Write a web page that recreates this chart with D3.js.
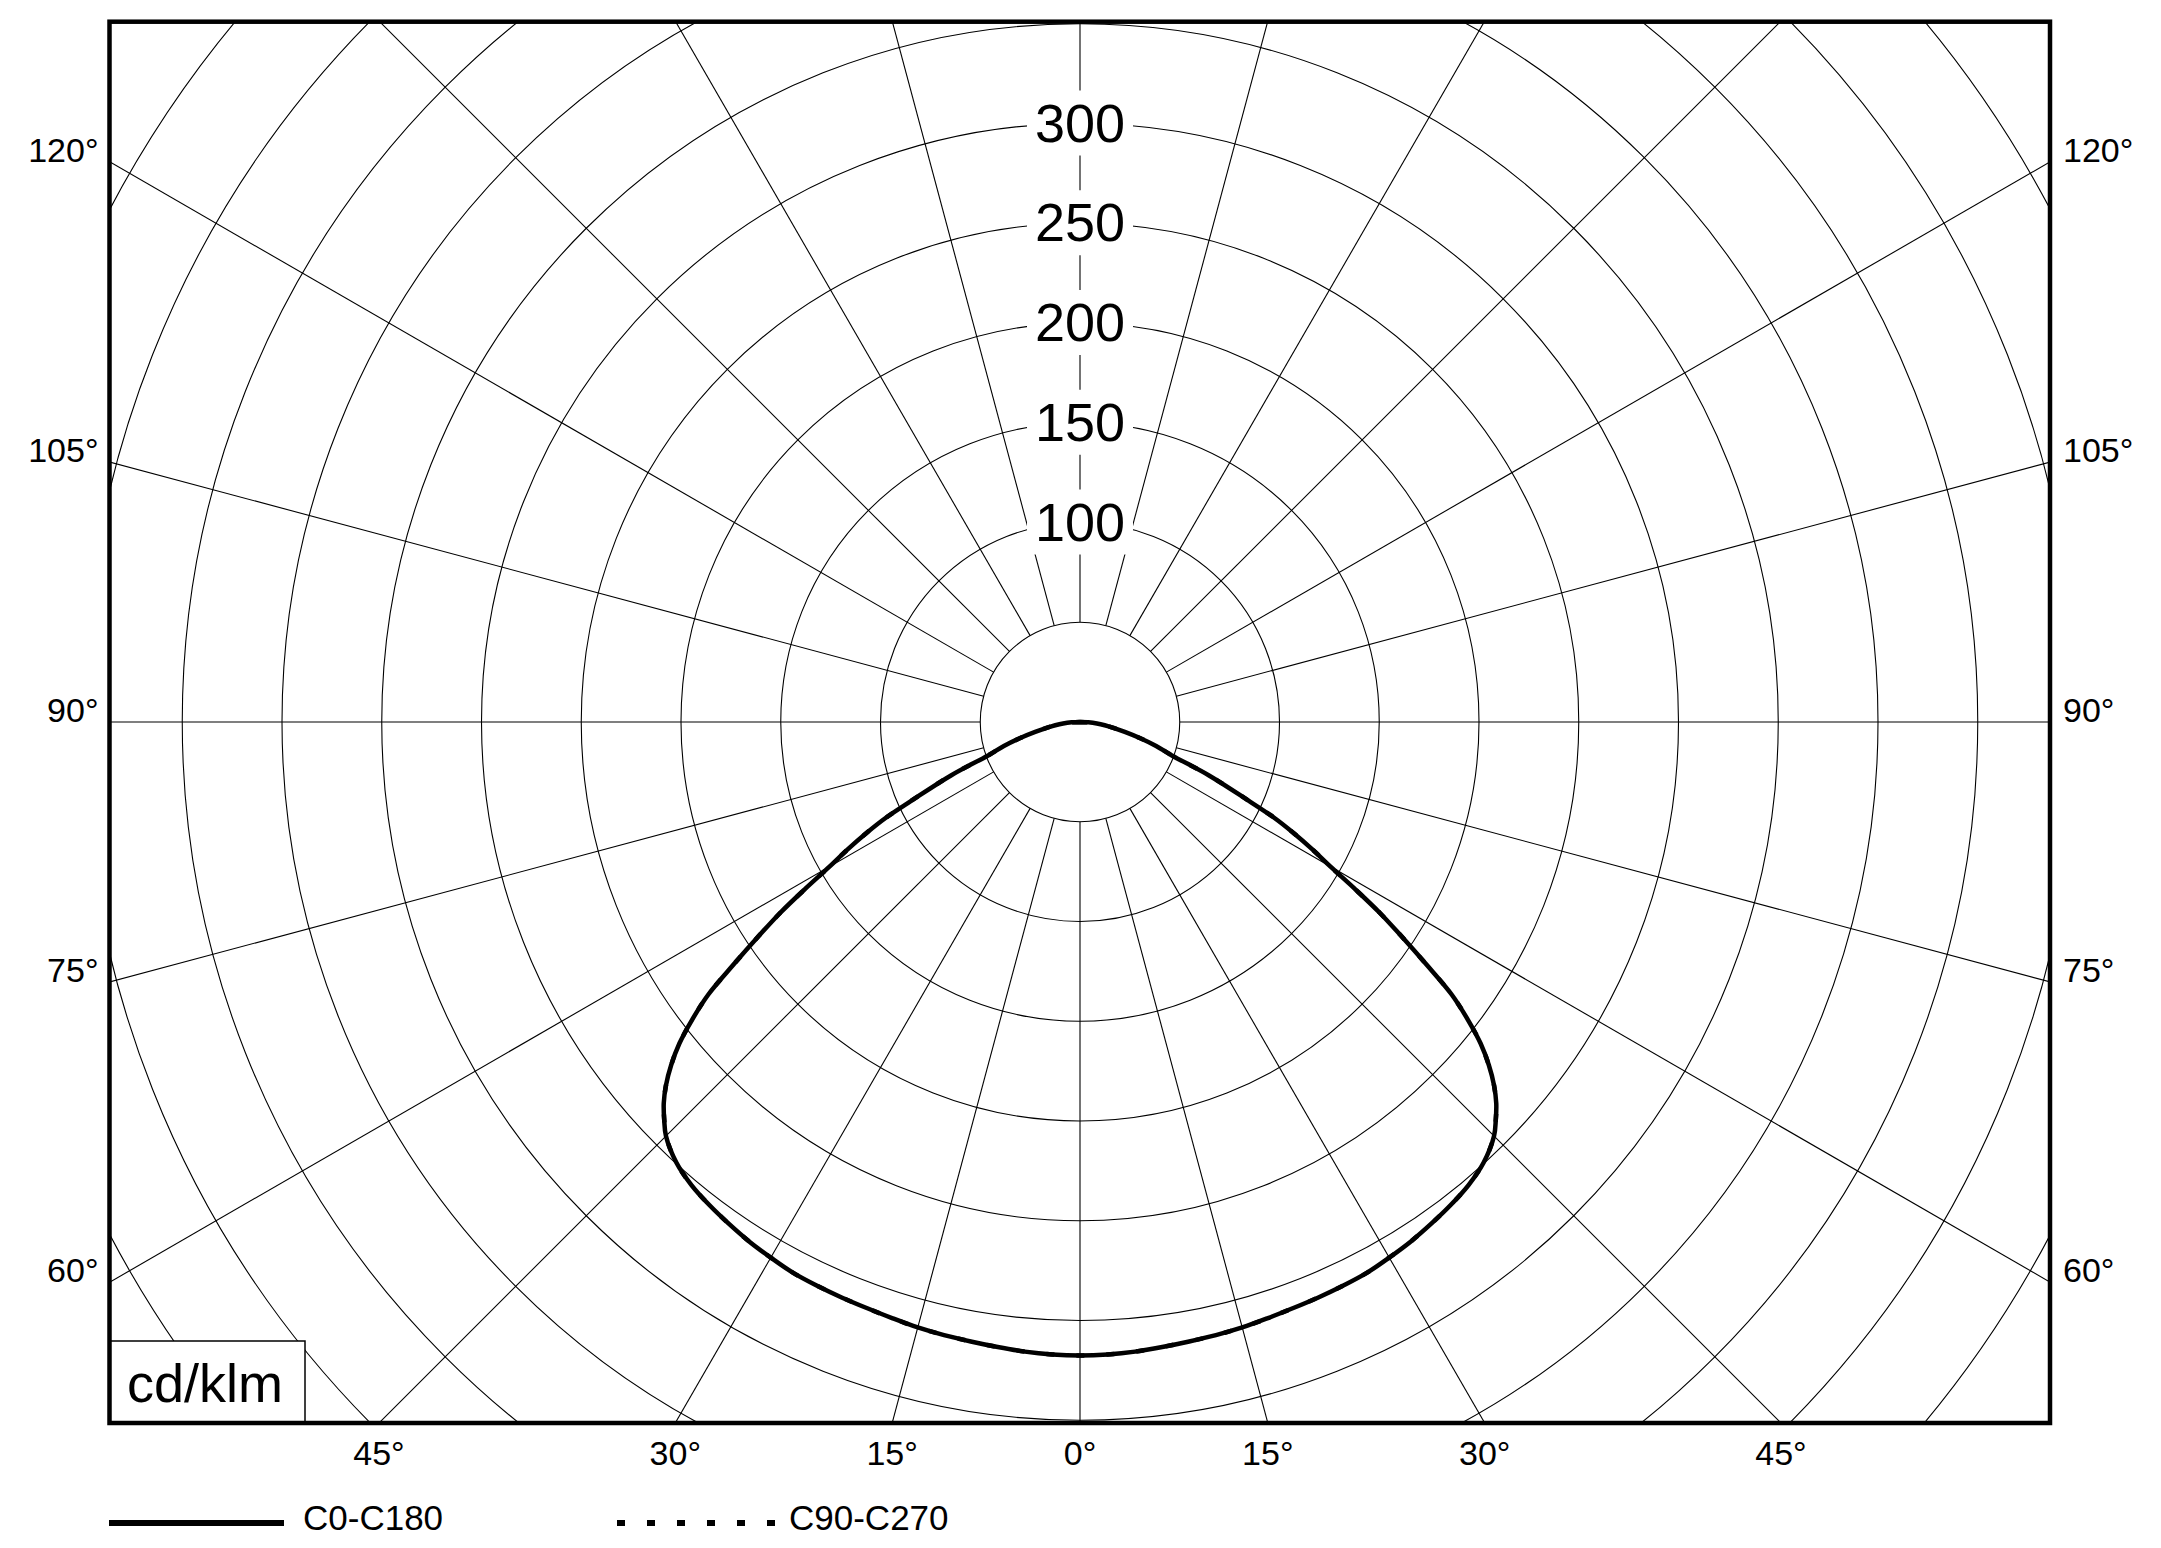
<!DOCTYPE html>
<html>
<head>
<meta charset="utf-8">
<script src="https://cdn.jsdelivr.net/npm/d3@7"></script>
<style>
  body { margin: 0; background: #fff; }
  svg { display: block; font-family: "Liberation Sans", Arial, sans-serif; }
</style>
</head>
<body>
<div id="chart"></div>
<script>
// gamma angles (deg from nadir) and intensities in cd/klm
const gammaAngles = [0, 2.5, 5, 7.5, 10, 12.5, 15, 17.5, 20, 22.5, 25, 27.5, 30, 32.5, 35, 37.5, 40, 42.5, 45,
    46.25, 47.5, 48.75, 50, 51.25, 52.5, 53.75, 55, 56.25, 57.5, 58.75, 60, 61.25, 62.5, 63.75, 65,
    67.5, 70, 72.5, 75, 77.5, 80, 82.5, 85, 87.5, 90];
const intensityC0C180 = [317.5, 317.3, 316.8, 316, 315.3, 314.8, 314.2, 313.3, 312.6, 312.2, 311.8, 311.3, 310, 308.7, 307, 305.2, 303, 299.5, 293.5,
    288.5, 283, 276, 267.5, 257.5, 245, 231, 212, 194.5, 178.4, 161, 145, 133, 121, 108.5, 93,
    70, 49, 40, 31, 23, 17, 12.5, 8.5, 4.2, 0];
const intensityC90C270 = [317.5, 317.3, 316.8, 316, 315.3, 314.8, 314.2, 313.3, 312.6, 312.2, 311.8, 311.3, 310, 308.7, 307, 305.2, 303, 299.5, 293.5,
    288.5, 283, 276, 267.5, 257.5, 245, 231, 212, 194.5, 178.4, 161, 145, 133, 121, 108.5, 93,
    70, 49, 40, 31, 23, 17, 12.5, 8.5, 4.2, 0];

const ringValues = [50, 100, 150, 200, 250, 300, 350, 400, 450, 500, 550, 600, 650];
const ringLabels = [100, 150, 200, 250, 300];
const spokeAngles = d3.range(0, 360, 15);
const sideLabels = [60, 75, 90, 105, 120];
const bottomLabels = [-45, -30, -15, 0, 15, 30, 45];
const legendItems = ["C0-C180", "C90-C270"];
const unitLabel = "cd/klm";

const width = 2161;
const height = 1548;
const box = {left: 109.5, right: 2050, top: 21.7, bottom: 1423};
const cx = 1080, cy = 722;

const svg = d3.select("#chart").append("svg")
    .attr("width", width)
    .attr("height", height);

svg.append("rect").attr("width", width).attr("height", height).attr("fill", "#fff");

svg.append("clipPath").attr("id", "plot-clip")
    .append("rect")
    .attr("x", box.left).attr("y", box.top)
    .attr("width", box.right - box.left).attr("height", box.bottom - box.top);

// radius scale, 50 cd/klm ~ 100 px
const r = d3.scaleLinear().domain([0, 350]).range([0, 698.25]);

const g = svg.append("g")
    .attr("clip-path", "url(#plot-clip)");

const center = g.append("g").attr("transform", `translate(${cx},${cy})`);

// rings
center.selectAll("circle.ring")
    .data(ringValues)
    .enter()
    .append("circle")
    .attr("class", "ring")
    .attr("r", d => r(d))
    .attr("fill", "none")
    .attr("stroke", "#000")
    .attr("stroke-width", 1.1);

// spokes from the inner circle outward (0 deg = down)
const toRad = a => a * Math.PI / 180;
center.selectAll("line.spoke")
    .data(spokeAngles)
    .enter()
    .append("line")
    .attr("class", "spoke")
    .attr("x1", d => -r(50) * Math.sin(toRad(d)))
    .attr("y1", d => r(50) * Math.cos(toRad(d)))
    .attr("x2", d => -r(700) * Math.sin(toRad(d)))
    .attr("y2", d => r(700) * Math.cos(toRad(d)))
    .attr("stroke", "#000")
    .attr("stroke-width", 1.1);

// ring value labels on the upward axis
const ringLab = center.selectAll("g.ringlab")
    .data(ringLabels)
    .enter()
    .append("g")
    .attr("transform", d => `translate(0,${-r(d)})`);

ringLab.append("rect")
    .attr("x", -53).attr("y", -33)
    .attr("width", 106).attr("height", 65)
    .attr("fill", "#fff");

ringLab.append("text")
    .attr("text-anchor", "middle")
    .attr("y", 18)
    .style("font-size", "54px")
    .text(d => d);

// intensity curves
function curvePoints(values) {
    const pts = [];
    for (let i = gammaAngles.length - 1; i > 0; i--) pts.push({a: -gammaAngles[i], v: values[i]});
    for (let i = 0; i < gammaAngles.length; i++) pts.push({a: gammaAngles[i], v: values[i]});
    return pts;
}

const radial = d3.lineRadial()
    .angle(d => Math.PI - toRad(d.a))
    .radius(d => r(d.v))
    .curve(d3.curveCatmullRom);

center.append("path")
    .attr("d", radial(curvePoints(intensityC90C270)))
    .attr("fill", "none")
    .attr("stroke", "#000")
    .attr("stroke-width", 4.5)
    .attr("stroke-dasharray", "8,22");

center.append("path")
    .attr("d", radial(curvePoints(intensityC0C180)))
    .attr("fill", "none")
    .attr("stroke", "#000")
    .attr("stroke-width", 4.5)
    .attr("stroke-linejoin", "round");

// unit box
svg.append("rect")
    .attr("x", box.left).attr("y", 1341)
    .attr("width", 305 - box.left).attr("height", box.bottom - 1341)
    .attr("fill", "#fff")
    .attr("stroke", "#000")
    .attr("stroke-width", 1.5);

svg.append("text")
    .attr("x", 127).attr("y", 1402)
    .style("font-size", "54px")
    .text(unitLabel);

// frame
svg.append("rect")
    .attr("x", box.left).attr("y", box.top)
    .attr("width", box.right - box.left).attr("height", box.bottom - box.top)
    .attr("fill", "none")
    .attr("stroke", "#000")
    .attr("stroke-width", 4.5);

// side angle labels, baseline on the spoke/frame intersection
const halfW = cx - box.left;
sideLabels.forEach(a => {
    const y = cy + halfW / Math.tan(toRad(a));
    svg.append("text")
        .attr("x", box.left - 11).attr("y", y)
        .attr("text-anchor", "end")
        .style("font-size", "34px")
        .text(`${a}°`);
    svg.append("text")
        .attr("x", box.right + 13).attr("y", y)
        .attr("text-anchor", "start")
        .style("font-size", "34px")
        .text(`${a}°`);
});

// bottom angle labels
const halfH = box.bottom - cy;
bottomLabels.forEach(a => {
    const x = cx + halfH * Math.tan(toRad(a));
    svg.append("text")
        .attr("x", x).attr("y", 1465)
        .attr("text-anchor", "middle")
        .style("font-size", "34px")
        .text(`${Math.abs(a)}°`);
});

// legend
const legendY = 1523;
svg.append("line")
    .attr("x1", 109).attr("x2", 284)
    .attr("y1", legendY).attr("y2", legendY)
    .attr("stroke", "#000")
    .attr("stroke-width", 6);
svg.append("text")
    .attr("x", 303).attr("y", 1530)
    .style("font-size", "35px")
    .text(legendItems[0]);

svg.append("line")
    .attr("x1", 617).attr("x2", 775)
    .attr("y1", legendY).attr("y2", legendY)
    .attr("stroke", "#000")
    .attr("stroke-width", 6)
    .attr("stroke-dasharray", "8,22");
svg.append("text")
    .attr("x", 789).attr("y", 1530)
    .style("font-size", "35px")
    .text(legendItems[1]);
</script>
</body>
</html>
